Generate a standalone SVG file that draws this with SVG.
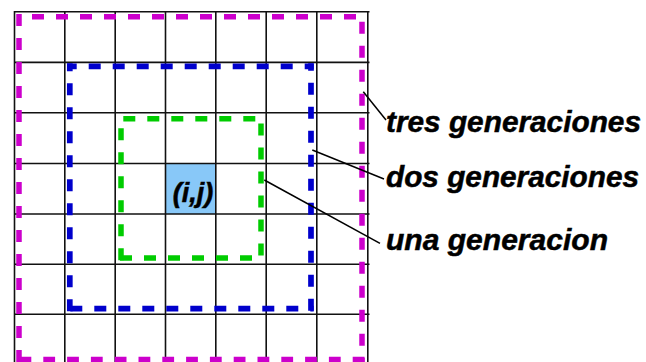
<svg xmlns="http://www.w3.org/2000/svg" width="646" height="362" viewBox="0 0 646 362">
  <style>
    .grid line { stroke: #111; stroke-width: 1.6; }
    .ring line { fill: none; stroke-dasharray: 12 12; stroke-linecap: butt; }
    .mag line { stroke: #cc00cc; stroke-width: 5.5; }
    .blu line { stroke: #0000cc; stroke-width: 5.7; }
    .grn line { stroke: #00cc00; stroke-width: 5.5; }
    .lbl { font-family: "Liberation Sans", Arial, sans-serif; font-weight: bold; font-style: italic; fill: #000; stroke: #000; stroke-width: 0.5; }
    .conn line { stroke: #000; stroke-width: 1.5; }
  </style>
  <rect width="646" height="362" fill="#fff"/>
  <g id="cell">
    <rect x="165.5" y="163.5" width="50.3" height="50.5" fill="#88c8f8"/>
  </g>
  <g id="grid" class="grid">
    <line x1="14.5" y1="11" x2="14.5" y2="362"/>
    <line x1="64.8" y1="11" x2="64.8" y2="362"/>
    <line x1="115.2" y1="11" x2="115.2" y2="362"/>
    <line x1="165.5" y1="11" x2="165.5" y2="362"/>
    <line x1="215.8" y1="11" x2="215.8" y2="362"/>
    <line x1="266.2" y1="11" x2="266.2" y2="362"/>
    <line x1="316.8" y1="11" x2="316.8" y2="362"/>
    <line x1="367.8" y1="11" x2="367.8" y2="362"/>
    <line x1="14" y1="11.7" x2="369.5" y2="11.7"/>
    <line x1="14" y1="62.4" x2="369.5" y2="62.4"/>
    <line x1="14" y1="112.8" x2="369.5" y2="112.8"/>
    <line x1="14" y1="163.5" x2="369.5" y2="163.5"/>
    <line x1="14" y1="214" x2="369.5" y2="214"/>
    <line x1="14" y1="264.3" x2="369.5" y2="264.3"/>
    <line x1="14" y1="314.3" x2="369.5" y2="314.3"/>
  </g>
  <g id="tres" class="ring mag">
    <line x1="32" y1="16.7" x2="356" y2="16.7"/>
    <line x1="362" y1="21.7" x2="362" y2="362"/>
    <line x1="19.5" y1="359.5" x2="365" y2="359.5" style="stroke-dasharray:11.8 12"/>
    <line x1="19" y1="14" x2="19" y2="362"/>
  </g>
  <g id="dos" class="ring blu">
    <line x1="67" y1="66.3" x2="313.7" y2="66.3" stroke-dashoffset="2.3"/>
    <line x1="67" y1="308.7" x2="313.7" y2="308.7" stroke-dashoffset="20.7"/>
    <line x1="69.8" y1="63.3" x2="69.8" y2="311.7" stroke-dashoffset="4"/>
    <line x1="311" y1="63.3" x2="311" y2="311.7" stroke-dashoffset="4.6"/>
  </g>
  <g id="una" class="ring grn">
    <line x1="123.3" y1="118.7" x2="256" y2="118.7"/>
    <line x1="261" y1="123.5" x2="261" y2="256"/>
    <line x1="121" y1="128.3" x2="121" y2="260.7"/>
    <line x1="120" y1="258" x2="252" y2="258"/>
  </g>
  <g id="center">
    <text class="lbl" x="193" y="201.5" font-size="27" text-anchor="middle">(i,j)</text>
  </g>
  <g id="labels">
    <text id="lbl-tres" class="lbl" x="386" y="132" font-size="30" textLength="255" lengthAdjust="spacingAndGlyphs">tres generaciones</text>
    <text id="lbl-dos" class="lbl" x="386" y="186.5" font-size="30" textLength="253" lengthAdjust="spacingAndGlyphs">dos generaciones</text>
    <text id="lbl-una" class="lbl" x="386" y="250" font-size="30" textLength="222" lengthAdjust="spacingAndGlyphs">una generacion</text>
  </g>
  <g id="connectors" class="conn">
    <line x1="363.3" y1="91.7" x2="386" y2="120"/>
    <line x1="312.3" y1="150" x2="384" y2="179"/>
    <line x1="264.3" y1="180" x2="380" y2="243.3"/>
  </g>
</svg>
